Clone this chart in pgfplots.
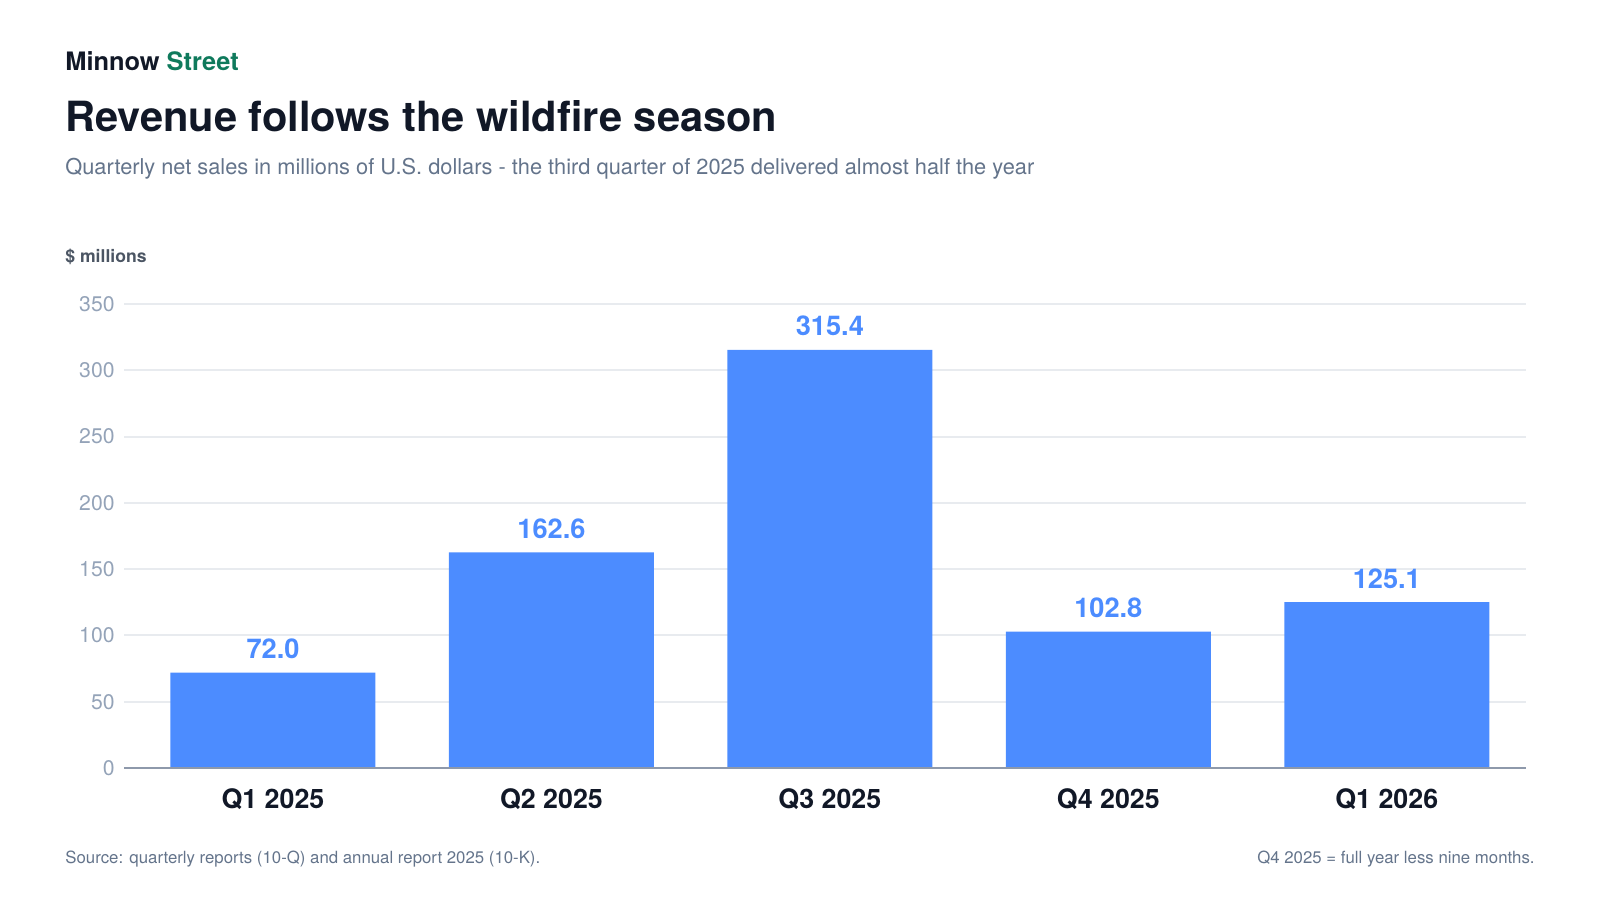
\documentclass[border=0pt]{standalone}
\usepackage{pgfplots}
\pgfplotsset{compat=1.18}
\usepackage{fontspec}
\setmainfont{TeX Gyre Heros}
\definecolor{barblue}{HTML}{4C8CFF}
\definecolor{titledark}{HTML}{111827}
\definecolor{brandgreen}{HTML}{0F7A5C}
\definecolor{subgray}{HTML}{64748B}
\definecolor{unitgray}{HTML}{4B5563}
\definecolor{tickgray}{HTML}{94A3B8}
\definecolor{gridgray}{HTML}{E8EBEF}
\definecolor{axisgray}{HTML}{8E99AB}
\begin{document}
\begin{tikzpicture}
\path[use as bounding box] (-62pt,-66pt) rectangle (738pt,384pt);
\node[anchor=base west, inner sep=0pt, font=\fontsize{12.7}{14}\selectfont\bfseries] at (-29.5pt,348.65pt) {\textcolor{titledark}{Minnow} \textcolor{brandgreen}{Street}};
\node[anchor=base west, inner sep=0pt, text=titledark, font=\fontsize{20.8}{24}\selectfont\bfseries] at (-29.5pt,318.15pt) {Revenue follows the wildfire season};
\node[anchor=base west, inner sep=0pt, text=subgray, font=\fontsize{10.9}{12}\selectfont] at (-29.5pt,296.5pt) {Quarterly net sales in millions of U.S. dollars - the third quarter of 2025 delivered almost half the year};
\node[anchor=base west, inner sep=0pt, text=unitgray, font=\fontsize{8.8}{10}\selectfont\bfseries] at (-29.5pt,252.5pt) {\$ millions};
\node[anchor=base west, inner sep=0pt, text=subgray, font=\fontsize{8.4}{10}\selectfont] at (-29.5pt,-47.5pt) {Source: quarterly reports (10-Q) and annual report 2025 (10-K).};
\node[anchor=base east, inner sep=0pt, text=subgray, font=\fontsize{8.4}{10}\selectfont] at (705.5pt,-47.5pt) {Q4 2025 = full year less nine months.};
\begin{axis}[
  at={(0pt,0pt)}, anchor=south west,
  scale only axis, width=701pt, height=232pt,
  xmin=-0.535, xmax=4.5, ymin=0, ymax=350,
  ybar, bar width=102.5pt,
  axis x line*=bottom, axis y line*=left,
  x axis line style={draw=none}, y axis line style={draw=none},
  major tick length=0pt,
  xtick={0,1,2,3,4},
  xticklabels={Q1 2025,Q2 2025,Q3 2025,Q4 2025,Q1 2026},
  ytick={0,50,...,350},
  ymajorgrids, grid style={draw=gridgray, line width=1pt},
  /pgf/number format/assume math mode=true,
  xticklabel style={anchor=base, inner sep=0pt, yshift=-20.15pt, text=titledark, font=\fontsize{13.4}{15}\selectfont\bfseries},
  yticklabel style={anchor=east, inner sep=0pt, xshift=-4.5pt, text=tickgray, font=\fontsize{10.6}{12}\selectfont},
  nodes near coords,
  every node near coord/.append style={/pgf/number format/fixed, /pgf/number format/fixed zerofill, /pgf/number format/precision=1, anchor=base, inner sep=0pt, yshift=7pt, text=barblue, font=\fontsize{13.6}{15}\selectfont\bfseries},
  clip=false,
]
\addplot[fill=barblue, draw=none] coordinates {(0,72.0) (1,162.6) (2,315.4) (3,102.8) (4,125.1)};
\draw[axisgray, line width=1pt] (rel axis cs:0,0) -- (rel axis cs:1,0);
\end{axis}
\end{tikzpicture}
\end{document}
